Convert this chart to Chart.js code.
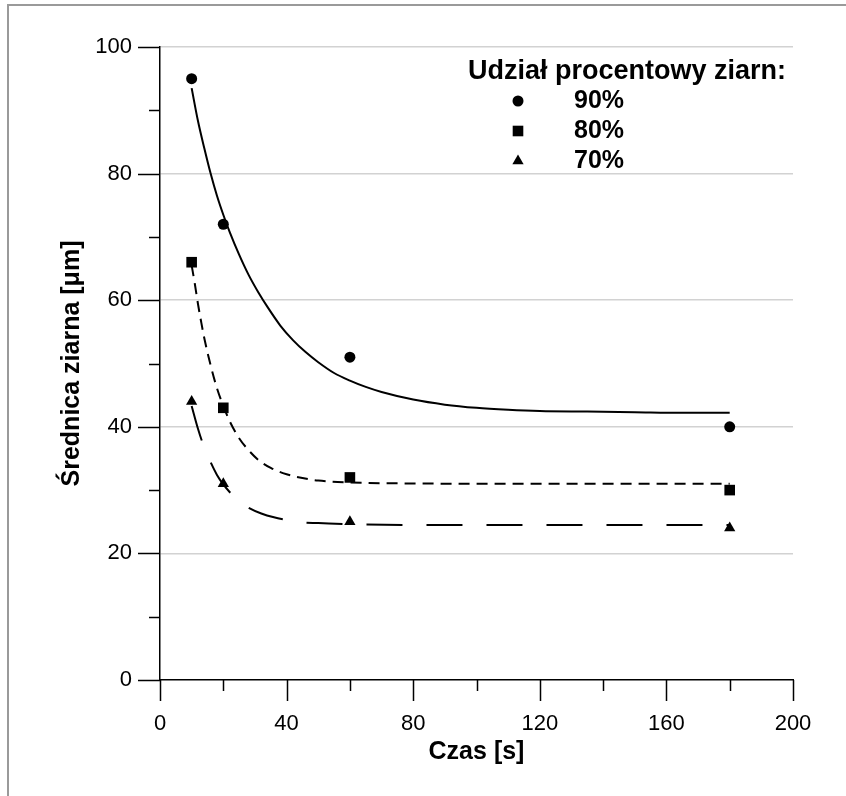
<!DOCTYPE html>
<html>
<head>
<meta charset="utf-8">
<script src="https://cdn.jsdelivr.net/npm/chart.js@4.4.0/dist/chart.umd.min.js"></script>
<style>
  html, body { margin: 0; padding: 0; background: #fff; }
  #wrap { position: absolute; left: 0; top: 0; width: 846px; height: 796px; }
  #frame { position: absolute; left: 7px; top: 4px; width: 839px; height: 792px;
           border-top: 2px solid #9a9a9a; border-left: 2px solid #9a9a9a;
           box-sizing: border-box; pointer-events: none; }
</style>
</head>
<body>
<div id="wrap">
  <canvas id="chart" width="846" height="796" style="width:846px;height:796px"></canvas>
  <div id="frame"></div>
</div>
<script>
// measured points (time in s, grain diameter in um)
const timeS = [10, 20, 60, 180];
const d90 = [95, 72, 51, 40];
const d80 = [66, 43, 32, 30];
const d70 = [44, 31, 25, 24];

// fitted curves
const fit90X = [10, 12, 14, 16, 18, 20, 22, 25, 28, 31, 34, 38, 42, 46, 50, 55, 60, 65, 70, 80, 90, 100, 110, 120, 135, 150, 165, 180];
const fit90Y = [93.5, 88.3, 84.0, 80.0, 76.5, 73.5, 70.8, 67.2, 64.0, 61.3, 58.9, 56.0, 53.7, 51.8, 50.2, 48.5, 47.3, 46.3, 45.5, 44.3, 43.5, 43.0, 42.7, 42.5, 42.4, 42.3, 42.2, 42.2];
const fit80X = [10, 11, 12, 13, 14, 16, 18, 20, 22, 25, 28, 31, 35, 40, 45, 50, 60, 80, 100, 120, 140, 160, 180];
const fit80Y = [65.5, 62.6, 59.4, 56.6, 54.0, 49.7, 46.1, 43.3, 40.9, 38.2, 36.3, 34.8, 33.5, 32.5, 31.9, 31.5, 31.2, 31.05, 31.0, 31.0, 31.0, 31.0, 31.0];
const fit70X = [10, 12, 14, 16, 18, 20, 22, 25, 28, 32, 36, 40, 45, 50, 60, 80, 100, 120, 140, 160, 180];
const fit70Y = [43.3, 39.7, 36.7, 34.4, 32.4, 30.9, 29.7, 28.2, 27.2, 26.3, 25.7, 25.3, 24.9, 24.8, 24.6, 24.5, 24.5, 24.5, 24.5, 24.5, 24.5];

// axis ticks
const xMajor = [0, 40, 80, 120, 160, 200];
const xMinor = [20, 60, 100, 140, 180];
const yMajor = [0, 20, 40, 60, 80, 100];
const yMinor = [10, 30, 50, 70, 90];

const legendTitle = 'Udział procentowy ziarn:';
const seriesNames = ['90%', '80%', '70%'];

const pts = (xs, ys) => xs.map((x, i) => ({ x: x, y: ys[i] }));

const markerStyles = [
  { pointStyle: 'circle', radius: 5.5 },
  { pointStyle: 'rect', radius: 7.5 },
  { pointStyle: 'triangle', radius: 6.5 }
];

function markerSet(data, i) {
  return {
    label: seriesNames[i],
    data: pts(timeS, data),
    showLine: false,
    pointStyle: markerStyles[i].pointStyle,
    pointRadius: markerStyles[i].radius,
    pointHoverRadius: markerStyles[i].radius,
    pointBackgroundColor: '#000',
    pointBorderWidth: 0,
    borderColor: '#000'
  };
}

function curveSet(xs, ys, dash) {
  return {
    label: '',
    data: pts(xs, ys),
    showLine: true,
    borderColor: '#000',
    borderWidth: 2,
    borderDash: dash,
    pointRadius: 0,
    pointHoverRadius: 0,
    cubicInterpolationMode: 'monotone',
    fill: false
  };
}

// tick marks with major/minor lengths
const tickMarks = {
  id: 'tickMarks',
  afterDraw(chart) {
    const ctx = chart.ctx;
    const xs = chart.scales.x, ys = chart.scales.y;
    const area = chart.chartArea;
    ctx.save();
    ctx.strokeStyle = '#000';
    ctx.lineWidth = 1.5;
    ctx.beginPath();
    xMajor.concat(xMinor).forEach(v => {
      const px = Math.round(xs.getPixelForValue(v)) + 0.5;
      const len = xMajor.includes(v) ? 21 : 11;
      ctx.moveTo(px, area.bottom);
      ctx.lineTo(px, area.bottom + len);
    });
    yMajor.concat(yMinor).forEach(v => {
      const py = Math.round(ys.getPixelForValue(v)) + 0.5;
      const len = yMajor.includes(v) ? 22 : 11;
      ctx.moveTo(area.left, py);
      ctx.lineTo(area.left - len, py);
    });
    ctx.stroke();
    ctx.restore();
  }
};

// legend box drawn inside the plot
const innerLegend = {
  id: 'innerLegend',
  afterDraw(chart) {
    const ctx = chart.ctx;
    ctx.save();
    ctx.fillStyle = '#000';
    ctx.textBaseline = 'middle';
    ctx.textAlign = 'left';
    ctx.font = 'bold 27px "Liberation Sans", Arial, sans-serif';
    ctx.fillText(legendTitle, 468, 72);
    const rowsY = [101, 131, 161];
    seriesNames.forEach((name, i) => {
      ctx.fillStyle = '#000';
      Chart.helpers.drawPoint(ctx, {
        pointStyle: markerStyles[i].pointStyle,
        radius: markerStyles[i].radius,
        rotation: 0,
        borderWidth: 0
      }, 518, rowsY[i]);
      ctx.font = 'bold 25px "Liberation Sans", Arial, sans-serif';
      ctx.fillText(name, 574, rowsY[i]);
    });
    ctx.restore();
  }
};

new Chart(document.getElementById('chart'), {
  type: 'scatter',
  data: {
    datasets: [
      markerSet(d90, 0),
      markerSet(d80, 1),
      markerSet(d70, 2),
      curveSet(fit90X, fit90Y, []),
      curveSet(fit80X, fit80Y, [11, 7]),
      curveSet(fit70X, fit70Y, [36, 24])
    ]
  },
  options: {
    responsive: false,
    animation: false,
    layout: { padding: { left: 0, right: 53, top: 47, bottom: 0 } },
    plugins: {
      legend: { display: false },
      tooltip: { enabled: false }
    },
    scales: {
      x: {
        type: 'linear',
        min: 0,
        max: 200,
        afterFit: s => { s.height = 116; },
        ticks: {
          stepSize: 40,
          padding: 31,
          color: '#000',
          font: { family: '"Liberation Sans", Arial, sans-serif', size: 22 }
        },
        grid: { display: false, drawTicks: false },
        border: { display: true, color: '#000', width: 1.5 },
        title: {
          display: true,
          text: 'Czas [s]',
          color: '#000',
          font: { family: '"Liberation Sans", Arial, sans-serif', size: 25, weight: 'bold' },
          padding: { top: 0, bottom: 29 }
        }
      },
      y: {
        min: 0,
        max: 100,
        afterFit: s => { s.width = 160; },
        ticks: {
          stepSize: 20,
          padding: 28,
          color: '#000',
          font: { family: '"Liberation Sans", Arial, sans-serif', size: 22 }
        },
        grid: {
          drawTicks: false,
          lineWidth: 1.5,
          color: c => (c.tick && c.tick.value === 0) ? 'rgba(0,0,0,0)' : '#d2d2d2'
        },
        border: { display: true, color: '#000', width: 1.5 },
        title: {
          display: true,
          text: 'Średnica ziarna [μm]',
          color: '#000',
          font: { family: '"Liberation Sans", Arial, sans-serif', size: 25, weight: 'bold' },
          padding: { top: 57, bottom: 0 }
        }
      }
    }
  },
  plugins: [tickMarks, innerLegend]
});
</script>
</body>
</html>
